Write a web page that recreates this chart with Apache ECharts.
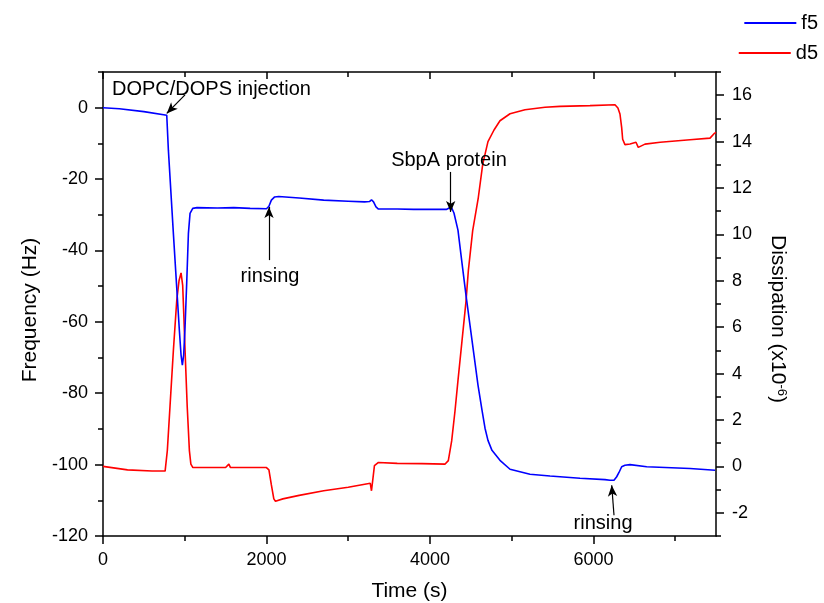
<!DOCTYPE html>
<html>
<head>
<meta charset="utf-8">
<script src="https://cdn.jsdelivr.net/npm/echarts@6/dist/echarts.min.js"></script>
<style>
  html, body { margin: 0; padding: 0; background: #fff; }
  #chart { width: 824px; height: 603px; }
</style>
</head>
<body>
<div id="chart"></div>
<script>
// Axis tick positions
const timeTicks = [0, 2000, 4000, 6000];
const timeMinorTicks = [1000, 3000, 5000, 7000];
const freqTicks = [-120, -100, -80, -60, -40, -20, 0];
const freqMinorTicks = [-110, -90, -70, -50, -30, -10, 10];
const dissTicks = [-2, 0, 2, 4, 6, 8, 10, 12, 14, 16];
const dissMinorTicks = [-3, -1, 1, 3, 5, 7, 9, 11, 13, 15, 17];

// Frequency shift of the 5th overtone (Hz) vs time (s)
const f5Time = [0, 200, 500, 780, 800, 861, 934, 955, 971, 987, 1004, 1024, 1045, 1065, 1098, 1150,
  1400, 1600, 1800, 2000, 2030, 2060, 2100, 2150, 2400, 2700, 3000, 3200, 3260, 3285, 3310, 3340, 3370,
  3600, 3800, 4000, 4200, 4230, 4253, 4270, 4294, 4343, 4392, 4441, 4490, 4539, 4588, 4637, 4674, 4710,
  4759, 4857, 4980, 5224, 5469, 5836, 6142, 6203, 6224, 6252, 6285, 6313, 6346, 6386, 6448, 6652, 7182, 7488];
const f5Freq = [0, -0.3, -1.1, -2.1, -11.9, -35.2, -62.3, -69.3, -72.1, -69.3, -61.4, -49.2, -35.2, -29.6, -28.2, -28.0,
  -28.1, -28.0, -28.2, -28.3, -27.6, -25.9, -25.0, -24.9, -25.3, -25.9, -26.2, -26.4, -26.3, -25.8, -26.4, -27.8, -28.4,
  -28.4, -28.5, -28.5, -28.5, -28.2, -27.6, -28.3, -29.5, -34.3, -43.5, -52.5, -60.9, -69.3, -77.7, -84.7, -89.8, -93.2,
  -96.0, -98.8, -101.3, -102.7, -103.2, -103.8, -104.2, -104.4, -104.6, -104.4, -103.4, -102.2, -100.6, -100.2, -100.0, -100.6, -101.1, -101.6];

// Dissipation of the 5th overtone (x10^-6) vs time (s)
const d5Time = [0, 300, 600, 760, 787, 820, 861, 902, 930, 955, 975, 990, 1004, 1030, 1057, 1075, 1100,
  1500, 1540, 1560, 2000, 2030, 2060, 2090, 2110, 2200, 2400, 2700, 3000, 3270, 3285, 3300, 3321, 3370,
  3600, 3900, 4186, 4225, 4266, 4307, 4343, 4392, 4441, 4470, 4523, 4592, 4646, 4710, 4784, 4857, 4980,
  5163, 5408, 5591, 5958, 6264, 6300, 6325, 6346, 6358, 6386, 6448, 6521, 6549, 6631, 6817, 7182, 7427, 7451, 7476, 7500];
const d5Diss = [0.0, -0.15, -0.2, -0.2, 0.68, 2.6, 4.99, 7.14, 8.0, 8.34, 7.8, 6.4, 4.99, 2.6, 0.68, 0.1, -0.05,
  -0.05, 0.1, -0.05, -0.05, -0.15, -0.8, -1.4, -1.5, -1.4, -1.25, -1.05, -0.9, -0.73, -1.05, -0.6, 0.03, 0.17,
  0.13, 0.12, 0.1, 0.25, 1.1, 2.4, 3.7, 5.4, 7.1, 8.44, 10.16, 11.59, 13.03, 14.0, 14.5, 14.9, 15.2,
  15.37, 15.48, 15.52, 15.55, 15.59, 15.45, 15.19, 14.6, 14.1, 13.87, 13.9, 13.97, 13.75, 13.89, 13.97, 14.08, 14.15, 14.12, 14.34, 14.4];

// Event labels (time, frequency) and their arrows
const eventLabels = ['DOPC/DOPS injection', 'rinsing', 'SbpA protein', 'rinsing'];
const eventLabelAt = [[1327, 5.2], [2043, -47.2], [4233, -14.7], [6118, -116.4]];
const eventArrowFrom = [[1003, 3.6], [2031, -42.7], [4254, -18.0], [6252, -114.2]];
const eventArrowTo = [[780, -1.6], [2031, -27.8], [4254, -29.2], [6224, -105.8]];

const FONT = '"Liberation Sans", Arial, sans-serif';
const BLACK = '#000';

function zip(a, b) { return a.map((v, i) => [v, b[i]]); }
const plain = v => String(v);

function tickAxis(position, min, max, ticks, len, inside, extra) {
  return Object.assign({
    type: 'value', position, min, max,
    axisLine: { show: false, onZero: false },
    axisTick: { show: true, inside, length: len, customValues: ticks, lineStyle: { color: BLACK, width: 1.5 } },
    axisLabel: { show: false },
    splitLine: { show: false }
  }, extra || {});
}

const labelStyle = { color: BLACK, fontSize: 18, fontFamily: FONT, formatter: plain };
const nameStyle = { color: BLACK, fontSize: 21, fontFamily: FONT };
const axisLineStyle = { show: true, onZero: false, lineStyle: { color: BLACK, width: 1.5 } };
const legendText = { color: BLACK, fontSize: 20, fontFamily: FONT };

const chart = echarts.init(document.getElementById('chart'), null, { renderer: 'canvas' });

chart.setOption({
  animation: false,
  backgroundColor: '#fff',
  textStyle: { fontFamily: FONT },
  grid: { left: 103, right: 108, top: 72, bottom: 67, containLabel: false, outerBoundsMode: 'none' },
  legend: [
    { data: ['f5'], orient: 'vertical', right: 1, top: 8, icon: 'rect', itemWidth: 52, itemHeight: 2,
      textStyle: legendText },
    { data: ['d5'], orient: 'vertical', right: 1, top: 38, icon: 'rect', itemWidth: 52, itemHeight: 2,
      textStyle: legendText }
  ],
  xAxis: [
    tickAxis('bottom', 0, 7500, timeTicks, 8, false, {
      axisLine: axisLineStyle,
      axisLabel: Object.assign({ show: true, customValues: timeTicks, margin: 15 }, labelStyle),
      name: 'Time (s)', nameLocation: 'middle', nameGap: 45, nameTextStyle: nameStyle
    }),
    tickAxis('bottom', 0, 7500, timeMinorTicks, 5, false),
    tickAxis('top', 0, 7500, timeTicks, 7, true, { axisLine: axisLineStyle }),
    tickAxis('top', 0, 7500, timeMinorTicks, 5, true)
  ],
  yAxis: [
    tickAxis('left', -120, 10, freqTicks, 8, false, {
      axisLine: axisLineStyle,
      axisLabel: Object.assign({ show: true, customValues: freqTicks, margin: 15 }, labelStyle),
      name: 'Frequency (Hz)', nameLocation: 'middle', nameGap: 61,
      nameTextStyle: Object.assign({ padding: [0, 12, 0, 0] }, nameStyle)
    }),
    tickAxis('left', -120, 10, freqMinorTicks, 5, false),
    tickAxis('right', -3, 17, dissTicks, 8, false, {
      axisLine: axisLineStyle,
      axisLabel: Object.assign({ show: true, customValues: dissTicks, margin: 16 }, labelStyle),
      name: 'Dissipation (x10{sup|-6})', nameLocation: 'middle', nameGap: 51, nameRotate: -90,
      nameTextStyle: Object.assign({
        padding: [0, 0, 0, 30],
        rich: { sup: { fontSize: 13, fontFamily: FONT, color: BLACK, verticalAlign: 'top', padding: [0, 0, 8, 0] } }
      }, nameStyle)
    }),
    tickAxis('right', -3, 17, dissMinorTicks, 5, false)
  ],
  series: [
    {
      name: 'f5', type: 'line', xAxisIndex: 0, yAxisIndex: 0,
      data: zip(f5Time, f5Freq),
      symbol: 'none', showSymbol: false, color: '#0000ff',
      lineStyle: { color: '#0000ff', width: 1.6 },
      z: 3,
      markLine: {
        silent: true, symbol: ['none', 'arrow'], symbolSize: [0, 10],
        label: { show: false },
        lineStyle: { color: BLACK, width: 1.2, type: 'solid' },
        data: eventArrowFrom.map((p, i) => [{ coord: p }, { coord: eventArrowTo[i], symbolSize: [7, 11] }])
      },
      markPoint: {
        silent: true, symbol: 'circle', symbolSize: 1,
        itemStyle: { color: 'rgba(0,0,0,0)' },
        label: { show: true, position: 'inside', color: BLACK, fontSize: 20, fontFamily: FONT, formatter: '{b}' },
        data: eventLabels.map((name, i) => ({ name, coord: eventLabelAt[i] }))
      }
    },
    {
      name: 'd5', type: 'line', xAxisIndex: 0, yAxisIndex: 2,
      data: zip(d5Time, d5Diss),
      symbol: 'none', showSymbol: false, color: '#ff0000',
      lineStyle: { color: '#ff0000', width: 1.6 },
      z: 2
    }
  ]
});
</script>
</body>
</html>
